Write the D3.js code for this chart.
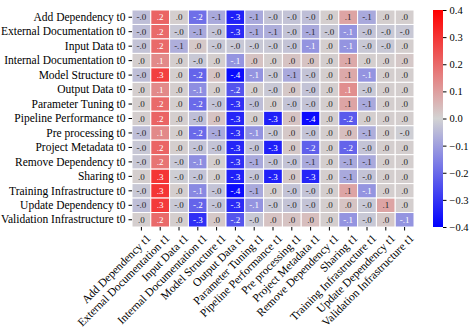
<!DOCTYPE html>
<html>
<head>
<meta charset="utf-8">
<script src="https://cdn.jsdelivr.net/npm/d3@7"></script>
<style>
  body { margin: 0; background: #fff; }
  svg text { font-family: "Liberation Serif", "Times New Roman", serif !important; }
</style>
</head>
<body>
<div id="chart"></div>
<script>
var margin = { top: 10, right: 62, bottom: 103, left: 132 },
    width = 476 - margin.left - margin.right,
    height = 330 - margin.top - margin.bottom;

// categories (rows are t0, columns are t1)
var categories = ['Add Dependency', 'External Documentation', 'Input Data',
    'Internal Documentation', 'Model Structure', 'Output Data',
    'Parameter Tuning', 'Pipeline Performance', 'Pre processing',
    'Project Metadata', 'Remove Dependency', 'Sharing',
    'Training Infrastructure', 'Update Dependency', 'Validation Infrastructure'];
var rowLabels = categories.map(c => c + ' t0');
var colLabels = categories.map(c => c + ' t1');

// cell values, one array per t0 row
var values = [
    [-0.04, 0.21, 0.01, -0.19, -0.08, -0.34, -0.08, -0.03, -0.03, -0.04, 0.01, 0.09, -0.08, 0.01, 0.01],
    [-0.04, 0.20, -0.02, -0.08, -0.03, -0.32, -0.08, -0.07, -0.03, -0.08, -0.02, -0.12, -0.03, -0.02, -0.02],
    [-0.03, 0.20, -0.07, 0.02, -0.02, -0.02, -0.02, -0.02, -0.03, -0.12, 0.01, -0.12, -0.02, -0.02, 0.01],
    [0.01, 0.14, 0.01, -0.02, 0.01, -0.12, 0.03, 0.01, 0.03, 0.03, 0.01, 0.08, 0.01, 0.01, 0.02],
    [-0.04, 0.28, 0.01, -0.21, 0.03, -0.38, -0.12, -0.02, -0.08, -0.03, 0.01, 0.08, -0.12, 0.01, 0.01],
    [0.01, 0.14, 0.01, -0.13, 0.01, -0.24, 0.01, -0.02, 0.02, -0.03, 0.01, 0.13, -0.02, 0.01, 0.01],
    [0.01, 0.20, 0.01, -0.20, -0.03, -0.31, -0.04, 0.01, -0.03, -0.03, 0.01, 0.09, -0.08, 0.01, 0.01],
    [0.01, 0.21, 0.01, -0.04, 0.03, -0.33, 0.01, -0.34, 0.03, -0.38, 0.01, -0.23, 0.01, 0.01, 0.01],
    [-0.04, 0.14, 0.01, -0.20, -0.08, -0.32, -0.12, -0.02, 0.02, -0.03, 0.01, 0.04, -0.07, 0.01, -0.01],
    [-0.02, 0.21, 0.01, -0.03, -0.03, -0.33, -0.03, -0.34, 0.02, -0.22, 0.01, -0.21, -0.03, 0.01, 0.01],
    [-0.02, 0.18, -0.02, -0.13, 0.01, -0.31, -0.08, -0.03, -0.03, -0.08, 0.01, -0.08, -0.08, 0.01, 0.01],
    [0.01, 0.30, -0.01, -0.03, 0.01, -0.34, -0.03, -0.34, 0.02, -0.33, 0.01, -0.08, -0.03, 0.01, 0.01],
    [-0.02, 0.30, 0.01, -0.14, -0.03, -0.38, -0.08, 0.01, -0.03, -0.03, 0.01, 0.09, -0.12, 0.01, 0.01],
    [-0.04, 0.29, -0.02, -0.21, -0.03, -0.32, -0.12, -0.02, -0.03, -0.03, 0.01, 0.03, -0.02, 0.09, 0.01],
    [0.01, 0.20, 0.01, -0.31, 0.02, -0.24, -0.02, 0.03, 0.03, 0.04, 0.01, -0.12, -0.02, 0.02, -0.12]
];

var colorTicks = [-0.4, -0.3, -0.2, -0.1, 0.0, 0.1, 0.2, 0.3, 0.4];

var x = d3.scaleBand().domain(colLabels).range([0, width]);
var y = d3.scaleBand().domain(rowLabels).range([0, height]);

var color = d3.scaleLinear()
    .domain([-0.4, 0, 0.4])
    .range(['#0000ff', '#d3d3d3', '#ff0000'])
    .clamp(true);

// seaborn-like choice of annotation colour
function lum(c) {
    var rgb = d3.rgb(c);
    var f = v => { v /= 255; return v <= 0.03928 ? v / 12.92 : Math.pow((v + 0.055) / 1.055, 2.4); };
    return 0.2126 * f(rgb.r) + 0.7152 * f(rgb.g) + 0.0722 * f(rgb.b);
}
function fmt(v) {
    var s = Math.abs(v).toFixed(1).replace(/^0/, '');
    return (v < 0 ? '-' : '') + s;
}

var cells = [];
values.forEach((row, i) => row.forEach((v, j) => cells.push({ r: rowLabels[i], c: colLabels[j], v: v })));

var svg = d3.select('#chart')
    .append('svg')
    .attr('width', 476)
    .attr('height', 330);

var plot = svg.append('g')
    .attr('transform', `translate(${margin.left}, ${margin.top})`);

plot.append('g')
    .selectAll('rect')
    .data(cells)
    .enter()
    .append('rect')
    .attr('x', d => x(d.c))
    .attr('y', d => y(d.r))
    .attr('width', x.bandwidth())
    .attr('height', y.bandwidth())
    .attr('fill', d => color(d.v))
    .attr('stroke', '#fff')
    .attr('stroke-width', 1);

plot.append('g')
    .selectAll('text')
    .data(cells)
    .enter()
    .append('text')
    .attr('x', d => x(d.c) + x.bandwidth() / 2)
    .attr('y', d => y(d.r) + y.bandwidth() / 2)
    .attr('dy', '0.35em')
    .attr('text-anchor', 'middle')
    .attr('font-size', 9)
    .attr('fill', d => lum(color(d.v)) > 0.408 ? '#262626' : '#fff')
    .text(d => fmt(d.v));

// axes
var yAxis = plot.append('g')
    .call(d3.axisLeft(y).tickSize(3.5).tickPadding(3));
yAxis.select('.domain').remove();
yAxis.selectAll('text').attr('font-size', 11.5).attr('fill', '#000');

var xAxis = plot.append('g')
    .attr('transform', `translate(0, ${height})`)
    .call(d3.axisBottom(x).tickSize(3.5).tickPadding(3));
xAxis.select('.domain').remove();
xAxis.selectAll('text')
    .attr('font-size', 11.5)
    .attr('fill', '#000')
    .attr('text-anchor', 'end')
    .attr('dy', '0.3em')
    .attr('transform', 'translate(3,5) rotate(-45)');

// colour bar
var cbX = width + 19, cbW = 10;
var defs = svg.append('defs');
var grad = defs.append('linearGradient')
    .attr('id', 'cb')
    .attr('x1', 0).attr('y1', 1).attr('x2', 0).attr('y2', 0);
d3.range(0, 1.0001, 0.05).forEach(t => {
    grad.append('stop')
        .attr('offset', t)
        .attr('stop-color', color(-0.4 + 0.8 * t));
});
plot.append('rect')
    .attr('x', cbX)
    .attr('y', 0)
    .attr('width', cbW)
    .attr('height', height)
    .attr('fill', 'url(#cb)');

var cbScale = d3.scaleLinear().domain([-0.4, 0.4]).range([height, 0]);
var cbAxis = plot.append('g')
    .attr('transform', `translate(${cbX + cbW}, 0)`)
    .call(d3.axisRight(cbScale).tickValues(colorTicks).tickFormat(d3.format('.1f')).tickSize(3.5).tickPadding(3));
cbAxis.select('.domain').remove();
cbAxis.selectAll('text').attr('font-size', 10.5).attr('fill', '#000');
</script>
</body>
</html>
